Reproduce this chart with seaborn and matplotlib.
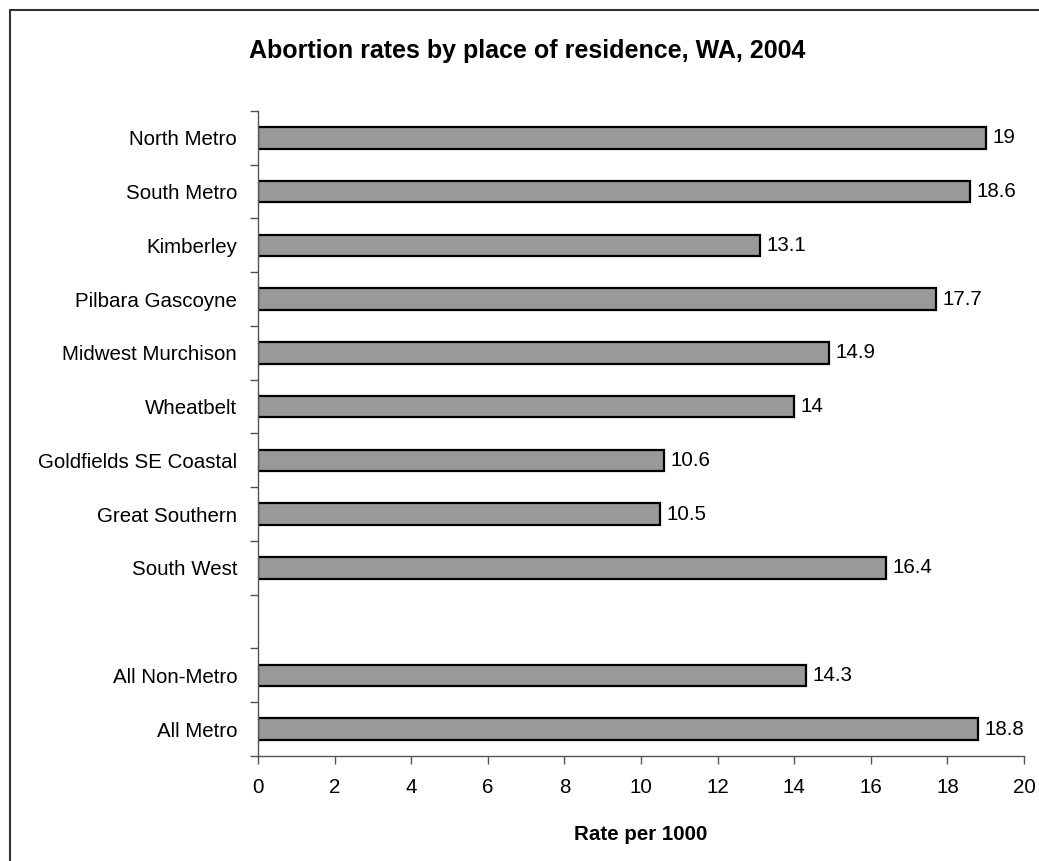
import numpy as np
import pandas as pd
import matplotlib
matplotlib.use("Agg")
import matplotlib.pyplot as plt
from matplotlib.lines import Line2D
from matplotlib.ticker import FixedLocator
import seaborn as sns

# Regions, top to bottom; the blank entry leaves a gap before the summaries
regions = ["North Metro", "South Metro", "Kimberley", "Pilbara Gascoyne",
           "Midwest Murchison", "Wheatbelt", "Goldfields SE Coastal",
           "Great Southern", "South West", "", "All Non-Metro", "All Metro"]
rates = [19, 18.6, 13.1, 17.7, 14.9, 14, 10.6, 10.5, 16.4, None, 14.3, 18.8]
rate_labels = ["19", "18.6", "13.1", "17.7", "14.9", "14", "10.6", "10.5",
               "16.4", "", "14.3", "18.8"]
x_ticks = [0, 2, 4, 6, 8, 10, 12, 14, 16, 18, 20]

df = pd.DataFrame({"region": regions, "rate": rates}).dropna()

sns.set_style("white")
plt.rcParams["font.family"] = ["Liberation Sans", "DejaVu Sans"]
plt.rcParams["text.color"] = "black"
plt.rcParams["axes.labelcolor"] = "black"

FS = 14.8

fig = plt.figure(figsize=(10.39, 8.61), dpi=100)
ax = fig.add_axes([0.2483, 0.1220, 0.7373, 0.7491])

sns.barplot(data=df, x="rate", y="region", order=regions, orient="h",
            color="#999999", saturation=1, width=0.4, edgecolor="black",
            linewidth=1.6, ax=ax)

# Value labels beside each bar
for i, (v, lab) in enumerate(zip(rates, rate_labels)):
    if v is None:
        continue
    ax.text(v + 0.17, i, lab, va="center", ha="left", fontsize=FS,
            color="black")

ax.set_xlim(0, 20)
ax.set_ylim(len(regions) - 0.5, -0.5)
ax.set_xticks(x_ticks)
ax.set_xticklabels([str(t) for t in x_ticks], fontsize=FS)
ax.set_yticks(range(len(regions)))
ax.set_yticklabels(regions, fontsize=FS)
ax.yaxis.set_minor_locator(FixedLocator(np.arange(-0.5, len(regions), 1.0)))
ax.tick_params(axis="y", which="major", length=0, pad=15, labelcolor="black")
ax.tick_params(axis="y", which="minor", left=True, length=6, width=1,
               color="#555555")
ax.tick_params(axis="x", which="major", bottom=True, length=6, width=1,
               color="#555555", pad=10, labelcolor="black")

ax.set_ylabel("")
ax.set_xlabel("Rate per 1000", fontsize=FS, fontweight="bold", labelpad=20,
              color="black")

for side in ["top", "right"]:
    ax.spines[side].set_visible(False)
for side in ["left", "bottom"]:
    ax.spines[side].set_color("#555555")
    ax.spines[side].set_linewidth(1)

fig.suptitle("Abortion rates by place of residence, WA, 2004",
             fontsize=18, fontweight="bold", x=0.5077, y=0.955, color="black")

# Chart-area frame along the left and top edges
fig.add_artist(Line2D([10 / 1039, 10 / 1039], [0, 1 - 10 / 861],
                      transform=fig.transFigure, color="#333333", lw=1.5))
fig.add_artist(Line2D([10 / 1039, 1], [1 - 10 / 861, 1 - 10 / 861],
                      transform=fig.transFigure, color="#333333", lw=1.5))

fig.savefig("out.png", dpi=100)
